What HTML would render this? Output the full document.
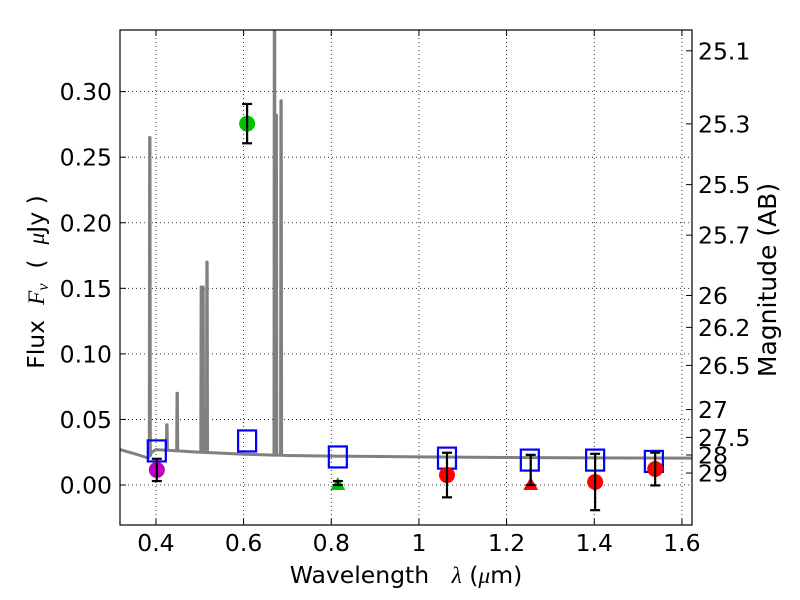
<!DOCTYPE html>
<html><head><meta charset="utf-8"><style>
body{margin:0;background:#fff;}
svg{display:block;font-family:"DejaVu Sans","Liberation Sans",sans-serif;}
</style></head><body>
<svg id="chart" width="800" height="600">
<defs><clipPath id="clip"><rect x="120" y="30" width="572" height="495"/></clipPath></defs>
<rect width="800" height="600" fill="#fff"/>
<g id="grid"></g>
<g id="spec" clip-path="url(#clip)"></g>
<g id="marks" clip-path="url(#clip)"></g>
<rect x="120" y="30" width="572" height="495" fill="none" stroke="#000" stroke-width="1.2"/>
<g id="axes"></g>
<text x="406" y="583" font-size="23.5" text-anchor="middle" xml:space="preserve">Wavelength   <tspan font-family="Liberation Serif" font-style="italic">λ</tspan> (<tspan font-family="Liberation Serif" font-style="italic">μ</tspan>m)</text>
<text transform="translate(44,282) rotate(-90)" font-size="23.5" text-anchor="middle" xml:space="preserve">Flux  <tspan font-family="Liberation Serif" font-style="italic">F<tspan font-size="16" dy="4">ν</tspan></tspan><tspan dy="-4">  (  </tspan><tspan font-family="Liberation Serif" font-style="italic">μ</tspan>Jy )</text>
<text transform="translate(776,280) rotate(-90)" font-size="25" text-anchor="middle">Magnitude (AB)</text>
</svg>
<script>
const xTicks=[0.4,0.6,0.8,1.0,1.2,1.4,1.6];
const xTickLabels=["0.4","0.6","0.8","1","1.2","1.4","1.6"];
const yTicks=[0,0.05,0.10,0.15,0.20,0.25,0.30];
const yTickLabels=["0.00","0.05","0.10","0.15","0.20","0.25","0.30"];
const magTicks=[25.1,25.3,25.5,25.7,26,26.2,26.5,27,27.5,28,29];
const contWave=[0.318,0.35,0.383,0.39,0.40,0.45,0.5,0.6,0.7,0.8,1.0,1.2,1.4,1.623];
const contFlux=[0.027,0.024,0.0205,0.025,0.027,0.026,0.025,0.0235,0.0225,0.022,0.0215,0.021,0.0207,0.0205];
const lineWave=[0.386,0.425,0.4485,0.5035,0.5075,0.5165,0.6705,0.6745,0.6855];
const lineFlux=[0.265,0.046,0.070,0.151,0.151,0.170,0.40,0.282,0.293];
const modelWave=[0.402,0.608,0.815,1.064,1.253,1.402,1.536];
const modelFlux=[0.026,0.0336,0.0214,0.0205,0.019,0.019,0.018];
const obsWave=[0.402,0.608,0.815,1.064,1.255,1.402,1.539];
const obsFlux=[0.0115,0.2756,0.0,0.0076,0.0,0.0023,0.0122];
const obsErr=[0.0085,0.015,0.003,0.017,0.0,0.0215,0.0125];
const obsShape=["circle","circle","triangle","circle","triangle","circle","circle"];
const obsColor=["#bf00bf","#00c000","#00c000","#ff0000","#ff0000","#ff0000","#ff0000"];
const X0=0.318,X1=1.623,Y0=-0.0305,Y1=0.347;
const X=v=>120+(v-X0)/(X1-X0)*572;
const Y=v=>525-(v-Y0)/(Y1-Y0)*495;
const NS="http://www.w3.org/2000/svg";
function mk(t,a,p){const e=document.createElementNS(NS,t);for(const k in a)e.setAttribute(k,a[k]);p.appendChild(e);return e;}
const grid=document.getElementById('grid'),axes=document.getElementById('axes');
xTicks.forEach((v,i)=>{const x=X(v);
 const g=mk('line',{x1:x,x2:x,y1:30,y2:525,stroke:'#000','stroke-width':0.8,'stroke-dasharray':'1,3'},grid);
 
 mk('line',{x1:x,x2:x,y1:525,y2:519,stroke:'#000'},axes);mk('line',{x1:x,x2:x,y1:30,y2:36,stroke:'#000'},axes);
 const t=mk('text',{x:x,y:551,'font-size':23.5,'text-anchor':'middle'},axes);t.textContent=xTickLabels[i];
 });
yTicks.forEach((v,i)=>{const y=Y(v);
 const g=mk('line',{x1:120,x2:692,y1:y,y2:y,stroke:'#000','stroke-width':0.8,'stroke-dasharray':'1,3'},grid);
 
 mk('line',{x1:120,x2:126,y1:y,y2:y,stroke:'#000'},axes);
 const t=mk('text',{x:112,y:y+8.5,'font-size':23.5,'text-anchor':'end'},axes);t.textContent=yTickLabels[i];
 });
magTicks.forEach(m=>{const y=Y(Math.pow(10,(23.9-m)/2.5));
 mk('line',{x1:686,x2:692,y1:y,y2:y,stroke:'#000'},axes);
 const t=mk('text',{x:698,y:y+8.5,'font-size':23.5},axes);t.textContent=String(m);
 });
let pts=contWave.map((w,i)=>[w,contFlux[i]]);
const cont=w=>{for(let i=0;i<contWave.length-1;i++){if(w<=contWave[i+1]){const f=(w-contWave[i])/(contWave[i+1]-contWave[i]);return contFlux[i]+f*(contFlux[i+1]-contFlux[i]);}}return contFlux[contFlux.length-1];};
lineWave.forEach((w,i)=>{const c=cont(w);pts.push([w-0.0012,c],[w-0.0004,lineFlux[i]],[w+0.0004,lineFlux[i]],[w+0.0012,c]);});
pts.sort((a,b)=>a[0]-b[0]);
const sp=mk('polyline',{points:pts.map(p=>X(p[0])+','+Y(p[1])).join(' '),fill:'none',stroke:'#808080','stroke-width':3,'stroke-linejoin':'round'},document.getElementById('spec'));

const marks=document.getElementById('marks');
modelWave.forEach((w,i)=>{const r=mk('rect',{x:X(w)-9,y:Y(modelFlux[i])-10.5,width:18,height:21,fill:'none',stroke:'#0000ff','stroke-width':2.2},marks);
 });
obsWave.forEach((w,i)=>{const x=X(w),y=Y(obsFlux[i]);
 let m;
 if(obsShape[i]==='circle'){m=mk('circle',{cx:x,cy:y,r:8,fill:obsColor[i]},marks);}
 else{m=mk('polygon',{points:`${x},${y-8} ${x-7.5},${y+5} ${x+7.5},${y+5}`,fill:obsColor[i]},marks);}
 
 let top=obsFlux[i]+obsErr[i],bot=obsFlux[i]-obsErr[i];
 if(obsShape[i]==='triangle'){top=obsFlux[i]+(i===4?0.023:0.003);bot=obsFlux[i];}
 const e=mk('g',{stroke:'#000','stroke-width':2.2},marks);
 
 mk('line',{x1:x,x2:x,y1:Y(top),y2:Y(bot)},e);
 mk('line',{x1:x-5,x2:x+5,y1:Y(top),y2:Y(top)},e);
 mk('line',{x1:x-5,x2:x+5,y1:Y(bot),y2:Y(bot)},e);});
</script>
</body></html>
